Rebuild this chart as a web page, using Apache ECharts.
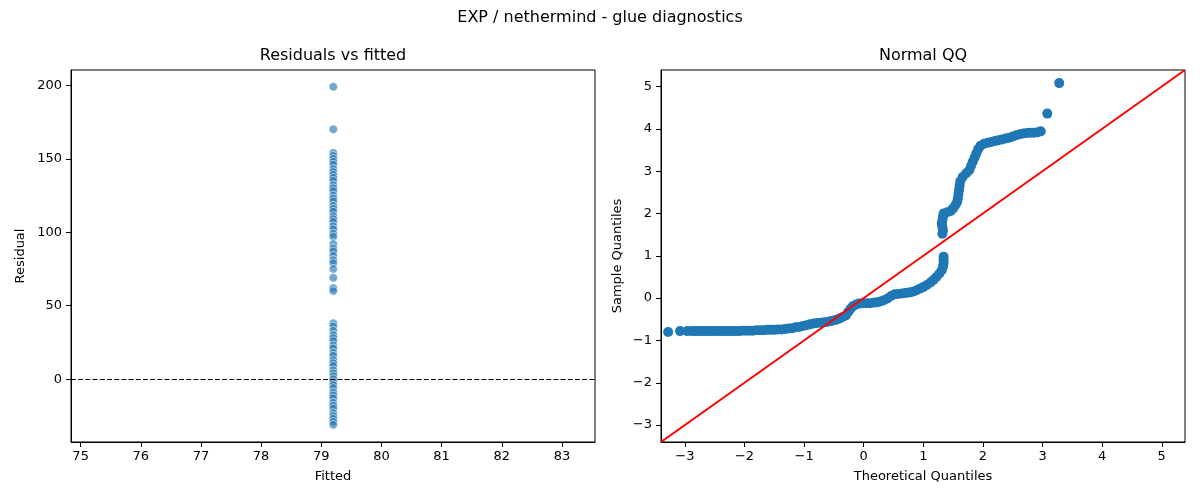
<!DOCTYPE html>
<html>
<head>
<meta charset="utf-8">
<script src="https://cdn.jsdelivr.net/npm/echarts@6/dist/echarts.min.js"></script>
<style>
html, body { margin: 0; padding: 0; background: #fff; }
#main { width: 1200px; height: 500px; }
</style>
</head>
<body>
<div id="main"></div>
<script>
// residuals vs fitted (every residual sits at the same fitted value)
var fittedValue = 79.2;
var residuals = [199, 170, 154, 152, 150, 148, 146, 143, 141, 139, 137, 135, 132, 130,
	128, 125, 123, 121, 118, 116, 114, 111, 109, 107, 104, 102, 99, 97, 92, 89, 87,
	84, 81, 79, 75, 69, 62, 60, 38, 36, 33, 30, 28, 26, 23, 21, 18, 16, 13, 11, 9,
	6, 4, 2, 0, -2, -4, -6, -9, -11, -13, -16, -18, -20, -23, -25, -27, -29, -31];

// normal QQ
var qqTheoretical = [-3.28, -3.08, -2.96, -2.88, -2.82, -2.76, -2.70, -2.64, -2.58, -2.52,
	-2.46, -2.40, -2.34, -2.28, -2.22, -2.16, -2.10, -2.04, -1.98, -1.92, -1.86, -1.80,
	-1.74, -1.68, -1.62, -1.56, -1.50, -1.44, -1.38, -1.32, -1.26, -1.20, -1.14, -1.08,
	-1.02, -0.96, -0.90, -0.84, -0.78, -0.72, -0.66, -0.60, -0.54, -0.48, -0.42, -0.36,
	-0.30, -0.26, -0.22, -0.18, -0.13, -0.08, -0.02, 0.04, 0.10, 0.16, 0.22, 0.28, 0.34,
	0.40, 0.46, 0.52, 0.58, 0.64, 0.70, 0.76, 0.82, 0.88, 0.94, 1.00, 1.06, 1.12, 1.17,
	1.22, 1.27, 1.31, 1.33, 1.34, 1.34, 1.34,
	1.32, 1.33, 1.32, 1.31, 1.32, 1.33, 1.34, 1.40, 1.46, 1.50, 1.54, 1.57, 1.58, 1.59,
	1.60, 1.61, 1.62, 1.66, 1.72, 1.77, 1.80, 1.83, 1.86, 1.89, 1.92, 1.96, 2.02, 2.08,
	2.14, 2.20, 2.26, 2.32, 2.38, 2.44, 2.50, 2.56, 2.62, 2.68, 2.74, 2.80, 2.86, 2.92,
	2.97, 3.08, 3.28];
var qqSample = [-0.80, -0.78, -0.78, -0.78, -0.78, -0.78, -0.78, -0.78, -0.78, -0.78,
	-0.78, -0.78, -0.78, -0.78, -0.78, -0.78, -0.78, -0.77, -0.77, -0.77, -0.77, -0.76,
	-0.76, -0.76, -0.75, -0.75, -0.75, -0.74, -0.74, -0.73, -0.72, -0.71, -0.69, -0.68,
	-0.66, -0.64, -0.62, -0.60, -0.59, -0.58, -0.57, -0.56, -0.54, -0.52, -0.49, -0.45,
	-0.41, -0.33, -0.25, -0.19, -0.15, -0.13, -0.12, -0.12, -0.12, -0.11, -0.10, -0.08,
	-0.05, -0.01, 0.05, 0.09, 0.10, 0.11, 0.12, 0.13, 0.15, 0.18, 0.22, 0.26, 0.31, 0.37,
	0.43, 0.50, 0.58, 0.66, 0.74, 0.82, 0.90, 0.98,
	1.52, 1.60, 1.68, 1.76, 1.84, 1.92, 2.00, 2.03, 2.06, 2.12, 2.20, 2.28, 2.36, 2.46,
	2.56, 2.66, 2.76, 2.86, 2.95, 3.02, 3.12, 3.22, 3.32, 3.42, 3.52, 3.60, 3.65, 3.67,
	3.69, 3.71, 3.73, 3.75, 3.77, 3.79, 3.82, 3.85, 3.87, 3.89, 3.90, 3.91, 3.91, 3.92,
	3.94, 4.36, 5.08];
// 45 degree reference line
var qqLine = [-3.40, 5.39];

var residualTicks = [0, 50, 100, 150, 200];
var fittedTicks = [75, 76, 77, 78, 79, 80, 81, 82, 83];
var quantileTicks = [-3, -2, -1, 0, 1, 2, 3, 4, 5];

var FONT = 'DejaVu Sans';

function fmt(v) {
	return String(v).replace('-', '\u2212');
}

function axis(gridIndex, min, max, ticks, name, gap, isY) {
	return {
		type : 'value',
		gridIndex : gridIndex,
		min : min,
		max : max,
		name : name,
		nameLocation : 'middle',
		nameGap : gap,
		nameTextStyle : {
			fontFamily : FONT,
			fontSize : 13,
			color : '#000'
		},
		axisLine : {
			show : true,
			onZero : false,
			lineStyle : {
				color : '#000',
				width : 1
			}
		},
		axisTick : {
			show : true,
			inside : false,
			length : 5,
			customValues : ticks,
			lineStyle : {
				color : '#000'
			}
		},
		axisLabel : {
			customValues : ticks,
			fontFamily : FONT,
			fontSize : 13,
			color : '#000',
			margin : isY ? 9 : 8,
			formatter : fmt
		},
		splitLine : {
			show : false
		}
	};
}

var residualData = [];
for (var i = 0; i < residuals.length; i++) {
	residualData.push([fittedValue, residuals[i]]);
}
var qqData = [];
for (var j = 0; j < qqTheoretical.length; j++) {
	qqData.push([qqTheoretical[j], qqSample[j]]);
}

var chart = echarts.init(document.getElementById('main'), null, {
	renderer : 'canvas'
});

var option = {
	backgroundColor : '#fff',
	animation : false,
	grid : [{
		left : 71,
		top : 70,
		width : 524,
		height : 372,
		show : true,
		borderColor : '#000',
		borderWidth : 1
	}, {
		left : 661,
		top : 70,
		width : 524,
		height : 372,
		show : true,
		borderColor : '#000',
		borderWidth : 1
	}],
	xAxis : [
		axis(0, 74.84, 83.55, fittedTicks, 'Fitted', 28, false),
		axis(1, qqLine[0], qqLine[1], quantileTicks, 'Theoretical Quantiles', 28, false)
	],
	yAxis : [
		axis(0, -42.75, 210.4, residualTicks, 'Residual', 44, true),
		axis(1, qqLine[0], qqLine[1], quantileTicks, 'Sample Quantiles', 37, true)
	],
	graphic : [{
		type : 'text',
		x : 600,
		y : 18,
		style : {
			text : 'EXP / nethermind - glue diagnostics',
			fontFamily : FONT,
			fontSize : 16,
			fill : '#000',
			textAlign : 'center',
			textVerticalAlign : 'middle'
		}
	}, {
		type : 'text',
		x : 333,
		y : 56,
		style : {
			text : 'Residuals vs fitted',
			fontFamily : FONT,
			fontSize : 16,
			fill : '#000',
			textAlign : 'center',
			textVerticalAlign : 'middle'
		}
	}, {
		type : 'text',
		x : 923,
		y : 56,
		style : {
			text : 'Normal QQ',
			fontFamily : FONT,
			fontSize : 16,
			fill : '#000',
			textAlign : 'center',
			textVerticalAlign : 'middle'
		}
	}],
	series : [{
		type : 'scatter',
		xAxisIndex : 0,
		yAxisIndex : 0,
		data : residualData,
		symbolSize : 8.5,
		itemStyle : {
			color : 'rgba(31,119,180,0.8)',
			borderColor : '#fff',
			borderWidth : 0.75
		},
		markLine : {
			silent : true,
			symbol : 'none',
			label : {
				show : false
			},
			lineStyle : {
				color : '#000',
				width : 1,
				type : [5, 2.2]
			},
			data : [{
				yAxis : 0
			}]
		}
	}, {
		type : 'scatter',
		xAxisIndex : 1,
		yAxisIndex : 1,
		data : qqData,
		symbolSize : 10,
		itemStyle : {
			color : '#1f77b4',
			opacity : 1
		}
	}, {
		type : 'line',
		xAxisIndex : 1,
		yAxisIndex : 1,
		data : [[qqLine[0], qqLine[0]], [qqLine[1], qqLine[1]]],
		symbol : 'none',
		z : 5,
		lineStyle : {
			color : '#ff0000',
			width : 2
		}
	}]
};

chart.setOption(option);
</script>
</body>
</html>
